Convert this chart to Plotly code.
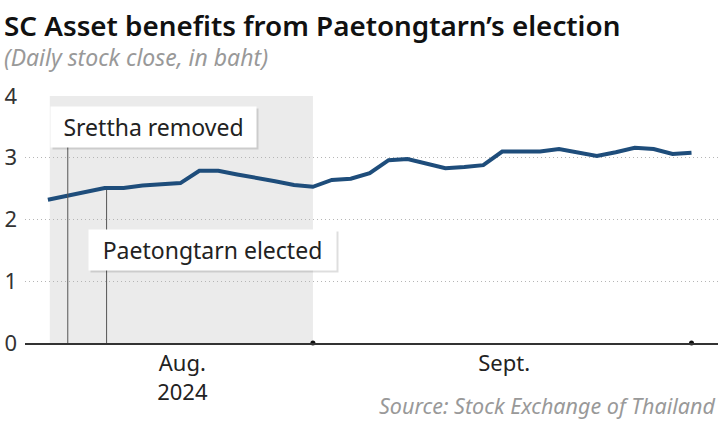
import plotly.graph_objects as go

# ---- data ----
day_index = list(range(35))
close = [2.32, 2.38, 2.45, 2.51, 2.51, 2.55, 2.57, 2.59, 2.79, 2.79,
         2.73, 2.68, 2.62, 2.56, 2.53, 2.64, 2.66, 2.75, 2.96, 2.98,
         2.90, 2.83, 2.85, 2.88, 3.10, 3.10, 3.10, 3.14, 3.08, 3.03,
         3.09, 3.16, 3.14, 3.06, 3.08]
month_tick_pos = [7.1, 24.1]
month_tick_text = ["Aug.<br>2024", "Sept."]
month_end_marks = [14, 34]
shade_start, shade_end = 0.1, 14
event_x = [1.05, 3.1]
event_labels = ["Srettha removed", "Paetongtarn elected"]

FONT = "Noto Sans"
W, H = 720, 422
ML, MR, MT, MB = 25, 2, 96, 79
PW, PH = W - ML - MR, H - MT - MB


def px_x(p):
    return (p - ML) / PW


def px_y(p):
    return (H - MB - p) / PH


fig = go.Figure()

fig.add_trace(go.Scatter(
    x=day_index, y=close, mode="lines",
    line=dict(color="#1e4d7b", width=4), hoverinfo="skip", showlegend=False))

fig.add_trace(go.Scatter(
    x=month_end_marks, y=[0] * len(month_end_marks), mode="markers",
    marker=dict(color="#111", size=5), cliponaxis=False,
    hoverinfo="skip", showlegend=False))

# shaded period
fig.add_shape(type="rect", xref="x", yref="y", x0=shade_start, x1=shade_end,
              y0=0, y1=4, fillcolor="#ebebeb", line=dict(width=0), layer="below")

# event lines
fig.add_shape(type="line", xref="x", yref="y", x0=event_x[0], x1=event_x[0],
              y0=0, y1=3.3, line=dict(color="#555", width=1), layer="above")
fig.add_shape(type="line", xref="x", yref="y", x0=event_x[1], x1=event_x[1],
              y0=0, y1=2.5, line=dict(color="#555", width=1), layer="below")

# event label boxes (with soft shadow)
boxes = [
    (event_labels[0], 5.56, 3.50, 197),
    (event_labels[1], 8.67, 1.51, 239),
]
for text, bx, by, bw in boxes:
    fig.add_annotation(x=bx, y=by, xref="x", yref="y", text=" ", showarrow=False,
                       width=bw, height=32, borderpad=4, xshift=2, yshift=-2,
                       bgcolor="rgba(0,0,0,0.13)", font=dict(size=20))
    fig.add_annotation(x=bx, y=by, xref="x", yref="y", text=text, showarrow=False,
                       width=bw, height=32, borderpad=4, bgcolor="white",
                       font=dict(family=FONT, size=23, color="#222"))

# title, subtitle, source
fig.add_annotation(x=px_x(2), y=px_y(25), xref="paper", yref="paper",
                   xanchor="left", yanchor="middle", showarrow=False,
                   text="SC Asset benefits from Paetongtarn’s election",
                   font=dict(family=FONT, size=27.8, color="#111", weight=600))
fig.add_annotation(x=px_x(2), y=px_y(57), xref="paper", yref="paper",
                   xanchor="left", yanchor="middle", showarrow=False,
                   text="<i>(Daily stock close, in baht)</i>",
                   font=dict(family=FONT, size=23, color="#999"))
fig.add_annotation(x=px_x(718), y=px_y(405), xref="paper", yref="paper",
                   xanchor="right", yanchor="middle", showarrow=False,
                   text="<i>Source: Stock Exchange of Thailand</i>",
                   font=dict(family=FONT, size=21.5, color="#999"))

fig.update_xaxes(range=[-1.21, 35.4], tickvals=month_tick_pos, ticktext=month_tick_text,
                 showgrid=False, zeroline=False, showline=True, linecolor="#333",
                 linewidth=1.5, ticks="", tickfont=dict(family=FONT, size=22, color="#222"),
                 fixedrange=True)
fig.update_yaxes(range=[0, 4.0], tickvals=[0, 1, 2, 3, 4], showgrid=True,
                 gridcolor="#b5b5b5", griddash="1px,3px", gridwidth=1, zeroline=False,
                 ticks="", ticklabelstandoff=7,
                 tickfont=dict(family=FONT, size=22, color="#333"), fixedrange=True)

fig.update_layout(width=W, height=H, margin=dict(l=ML, r=MR, t=MT, b=MB),
                  plot_bgcolor="white", paper_bgcolor="white", showlegend=False)

fig.write_html("out.html")
